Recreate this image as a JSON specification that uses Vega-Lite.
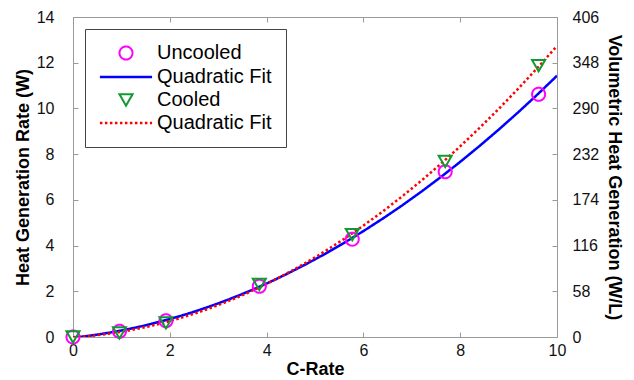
{
  "$schema": "https://vega.github.io/schema/vega-lite/v6.json",
  "width": 484,
  "height": 320,
  "autosize": {"type": "none"},
  "padding": {"left": 73, "top": 17, "right": 77, "bottom": 43},
  "background": "white",
  "config": {
    "font": "Liberation Sans",
    "view": {"stroke": null},
    "axis": {
      "grid": false,
      "domainColor": "#9a9a9a",
      "tickColor": "#9a9a9a",
      "tickSize": -5,
      "labelFlush": false,
      "labelFontSize": 16,
      "labelColor": "#111",
      "labelFont": "Liberation Sans",
      "titleFont": "Liberation Sans",
      "titleFontSize": 18,
      "titleFontWeight": "bold",
      "titleColor": "#000"
    },
    "legend": {
      "labelFont": "Liberation Sans",
      "labelFontSize": 20,
      "labelColor": "#000",
      "orient": "top-left",
      "offset": 12,
      "fillColor": "white",
      "strokeColor": "#444",
      "padding": 14,
      "symbolSize": 170,
      "symbolStrokeWidth": 2.5,
      "symbolOffset": 17,
      "rowPadding": 3,
      "labelOffset": 21
    }
  },
  "data": {
    "values": [
      {"series": "Uncooled", "crate": 0, "heat": 0},
      {"series": "Uncooled", "crate": 0.96, "heat": 0.25},
      {"series": "Uncooled", "crate": 1.92, "heat": 0.71},
      {"series": "Uncooled", "crate": 3.85, "heat": 2.22},
      {"series": "Uncooled", "crate": 5.77, "heat": 4.28},
      {"series": "Uncooled", "crate": 7.69, "heat": 7.23},
      {"series": "Uncooled", "crate": 9.62, "heat": 10.62},
      {"series": "Cooled", "crate": 0, "heat": 0},
      {"series": "Cooled", "crate": 0.96, "heat": 0.18},
      {"series": "Cooled", "crate": 1.92, "heat": 0.62},
      {"series": "Cooled", "crate": 3.85, "heat": 2.3},
      {"series": "Cooled", "crate": 5.77, "heat": 4.48},
      {"series": "Cooled", "crate": 7.69, "heat": 7.68},
      {"series": "Cooled", "crate": 9.62, "heat": 11.87}
    ]
  },
  "resolve": {"axis": {"x": "independent", "y": "independent"}},
  "layer": [
    {
      "transform": [
        {"filter": "datum.series === 'Uncooled'"},
        {"regression": "heat", "on": "crate", "method": "poly", "order": 2, "extent": [0, 10]}
      ],
      "mark": {"type": "line", "strokeWidth": 2.5, "clip": true},
      "encoding": {
        "x": {
          "field": "crate", "type": "quantitative",
          "scale": {"domain": [0, 10], "nice": false, "zero": false},
          "axis": {"orient": "bottom", "values": [0, 2, 4, 6, 8, 10], "title": "C-Rate", "labelPadding": 10, "titlePadding": 2}
        },
        "y": {
          "field": "heat", "type": "quantitative",
          "scale": {"domain": [0, 14], "nice": false, "zero": false},
          "axis": {"orient": "left", "values": [0, 2, 4, 6, 8, 10, 12, 14], "title": "Heat Generation Rate (W)", "labelPadding": 24, "titlePadding": 4}
        },
        "color": {"datum": "Quadratic Fit"},
        "strokeDash": {"datum": "Quadratic Fit"}
      }
    },
    {
      "transform": [
        {"filter": "datum.series === 'Cooled'"},
        {"regression": "heat", "on": "crate", "method": "poly", "order": 2, "extent": [0, 10]}
      ],
      "mark": {"type": "line", "strokeWidth": 2.5, "clip": true},
      "encoding": {
        "x": {
          "field": "crate", "type": "quantitative",
          "axis": {"orient": "top", "values": [0, 2, 4, 6, 8, 10], "labels": false, "title": null}
        },
        "y": {
          "field": "heat", "type": "quantitative",
          "axis": {"orient": "right", "values": [0, 2, 4, 6, 8, 10, 12, 14], "labelExpr": "format(datum.value * 29, 'd')", "title": "Volumetric Heat Generation (W/L)", "labelPadding": 20, "titlePadding": 6}
        },
        "color": {"datum": "Quadratic Fit "},
        "strokeDash": {"datum": "Quadratic Fit "}
      }
    },
    {
      "mark": {"type": "point", "filled": false, "opacity": 1, "size": 170},
      "encoding": {
        "x": {"field": "crate", "type": "quantitative", "axis": null},
        "y": {"field": "heat", "type": "quantitative", "axis": null},
        "color": {
          "field": "series", "type": "nominal",
          "scale": {
            "domain": ["Uncooled", "Quadratic Fit", "Cooled", "Quadratic Fit "],
            "range": ["#ff00ff", "#0000ff", "#109a30", "#ff0000"]
          },
          "legend": {"title": null}
        },
        "shape": {
          "field": "series", "type": "nominal",
          "scale": {
            "domain": ["Uncooled", "Quadratic Fit", "Cooled", "Quadratic Fit "],
            "range": ["circle", "M-4,0H4", "triangle-down", "M-4,0H4"]
          },
          "legend": {"title": null}
        },
        "strokeWidth": {
          "field": "series", "type": "nominal",
          "scale": {
            "type": "ordinal",
            "domain": ["Uncooled", "Quadratic Fit", "Cooled", "Quadratic Fit "],
            "range": [2, 2.5, 2, 2.5]
          },
          "legend": {"title": null}
        },
        "strokeDash": {
          "field": "series", "type": "nominal",
          "scale": {
            "domain": ["Uncooled", "Quadratic Fit", "Cooled", "Quadratic Fit "],
            "range": [[1, 0], [1, 0], [1, 0], [2.5, 2.5]]
          },
          "legend": {"title": null}
        }
      }
    }
  ]
}
